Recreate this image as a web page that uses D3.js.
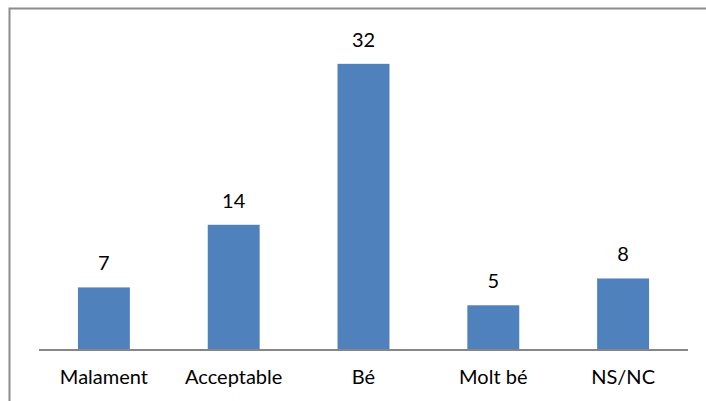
<!DOCTYPE html>
<html>
<head>
<meta charset="utf-8">
<script src="https://cdn.jsdelivr.net/npm/d3@7"></script>
<style>
  html, body { margin: 0; padding: 0; background: #fff; }
  svg { display: block; }
  text { font-family: Lato, "Open Sans", sans-serif; fill: #000; }
</style>
</head>
<body>
<svg id="chart" width="706" height="401"></svg>
<script>
// Survey ratings and their counts
const categories = ["Malament", "Acceptable", "Bé", "Molt bé", "NS/NC"];
const values = [7, 14, 32, 5, 8];
const yDomainMax = 35;

const W = 706, H = 401;
const plot = { left: 39, right: 688, top: 37, bottom: 350 };

const svg = d3.select("#chart");

// Chart area frame
svg.append("rect")
  .attr("x", 9.5).attr("y", 8.5)
  .attr("width", W + 20).attr("height", H + 20)
  .attr("fill", "#fff")
  .attr("stroke", "#8c8c8c")
  .attr("stroke-width", 2);

const x = d3.scaleBand()
  .domain(categories)
  .range([plot.left, plot.right])
  .paddingInner(0.6)
  .paddingOuter(0.3);

const y = d3.scaleLinear()
  .domain([0, yDomainMax])
  .range([plot.bottom, plot.top]);

const data = categories.map((c, i) => ({ cat: c, val: values[i] }));

// Bars
svg.append("g").selectAll("rect")
  .data(data)
  .join("rect")
  .attr("x", d => x(d.cat))
  .attr("y", d => y(d.val))
  .attr("width", x.bandwidth())
  .attr("height", d => y(0) - y(d.val))
  .attr("fill", "#4f81bd");

// Value labels above bars
svg.append("g").selectAll("text")
  .data(data)
  .join("text")
  .attr("x", d => x(d.cat) + x.bandwidth() / 2)
  .attr("y", d => y(d.val) - 17)
  .attr("text-anchor", "middle")
  .attr("font-size", 20)
  .text(d => d.val);

// Category axis
const xAxis = d3.axisBottom(x).tickSize(0).tickPadding(0);
const gx = svg.append("g")
  .attr("transform", `translate(0,${plot.bottom})`)
  .call(xAxis);
gx.select(".domain")
  .attr("d", `M${plot.left},0H${plot.right}`)
  .attr("stroke", "#868686")
  .attr("stroke-width", 2);
gx.selectAll(".tick text")
  .attr("dy", null)
  .attr("y", 34)
  .attr("font-size", 20)
  .attr("font-family", "Lato, 'Open Sans', sans-serif")
  .attr("fill", "#000");
</script>
</body>
</html>
